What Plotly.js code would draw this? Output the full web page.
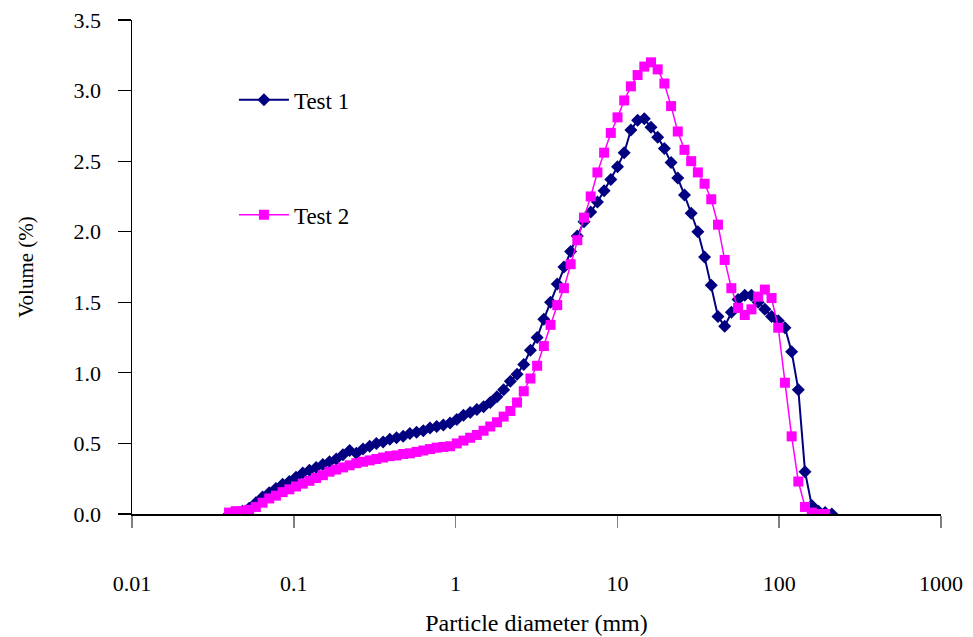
<!DOCTYPE html>
<html>
<head>
<meta charset="utf-8">
<script src="https://cdn.plot.ly/plotly-3.0.1.min.js"></script>
<style>html,body{margin:0;padding:0;background:#fff;}#chart{width:973px;height:637px;}</style>
</head>
<body>
<div id="chart"></div>
<script>
// Particle diameters (mm)
const diameter = [
  0.0398, 0.04378, 0.04816, 0.05297, 0.05827, 0.0641, 0.07051, 0.07756, 0.08532, 0.09385,
  0.10323, 0.11356, 0.12491, 0.1374, 0.15114, 0.16626, 0.18288, 0.20117, 0.22129, 0.24342,
  0.26776, 0.29454, 0.32399, 0.35639, 0.39203, 0.43123, 0.47436, 0.52179, 0.57397, 0.63137,
  0.6945, 0.76395, 0.84035, 0.92439, 1.01682, 1.11851, 1.23036, 1.35339, 1.48873, 1.6376,
  1.80137, 1.9815, 2.17965, 2.39762, 2.63738, 2.90112, 3.19123, 3.51035, 3.86139, 4.24753,
  4.67228, 5.13951, 5.65346, 6.21881, 6.84069, 7.52476, 8.27723, 9.10496, 10.0155, 11.017,
  12.1187, 13.3306, 14.6636, 16.13, 17.743, 19.5173, 21.469, 23.6159, 25.9775, 28.5753,
  31.4328, 34.5761, 38.0337, 41.8371, 46.0208, 50.6229, 55.6852, 61.2537, 67.379, 74.1169,
  81.5286, 89.6815, 98.6496, 108.515, 119.366, 131.303, 144.433, 158.876, 174.764, 192.24,
  211.464
];

// Volume (%) - Test 1
const test1 = [
  0.00, 0.01, 0.02, 0.04, 0.08, 0.12, 0.15, 0.18, 0.21, 0.23,
  0.26, 0.29, 0.31, 0.33, 0.35, 0.37, 0.39, 0.42, 0.45, 0.43,
  0.46, 0.48, 0.50, 0.51, 0.53, 0.54, 0.55, 0.57, 0.58, 0.59,
  0.61, 0.62, 0.63, 0.645, 0.67, 0.70, 0.72, 0.74, 0.76, 0.79,
  0.83, 0.88, 0.94, 0.99, 1.06, 1.16, 1.25, 1.38, 1.50, 1.63,
  1.75, 1.86, 1.97, 2.07, 2.14, 2.21, 2.29, 2.37, 2.46, 2.56,
  2.72, 2.79, 2.80, 2.74, 2.67, 2.59, 2.49, 2.38, 2.26, 2.13,
  2.00, 1.82, 1.62, 1.40, 1.33, 1.43, 1.52, 1.55, 1.55, 1.50,
  1.45, 1.40, 1.37, 1.32, 1.15, 0.88, 0.30, 0.06, 0.02, 0.01,
  0.00
];

// Volume (%) - Test 2
const test2 = [
  0.01, 0.02, 0.02, 0.03, 0.05, 0.08, 0.11, 0.13, 0.155, 0.175,
  0.195, 0.215, 0.235, 0.255, 0.275, 0.30, 0.315, 0.33, 0.345, 0.36,
  0.37, 0.38, 0.39, 0.40, 0.41, 0.415, 0.425, 0.43, 0.44, 0.45,
  0.46, 0.47, 0.475, 0.48, 0.50, 0.52, 0.54, 0.56, 0.59, 0.62,
  0.65, 0.69, 0.73, 0.79, 0.87, 0.96, 1.05, 1.19, 1.34, 1.48,
  1.60, 1.77, 1.94, 2.10, 2.25, 2.42, 2.56, 2.70, 2.81, 2.93,
  3.03, 3.11, 3.17, 3.20, 3.15, 3.05, 2.89, 2.71, 2.58, 2.50,
  2.42, 2.34, 2.23, 2.05, 1.80, 1.60, 1.46, 1.41, 1.45, 1.54,
  1.59, 1.53, 1.32, 0.93, 0.55, 0.23, 0.05, 0.01, 0.00, 0.00
];

const xTickVals = [0.01, 0.1, 1, 10, 100, 1000];
const xTickText = ['0.01', '0.1', '1', '10', '100', '1000'];
const seriesNames = ['Test 1', 'Test 2'];

const traces = [
  {
    x: diameter.slice(0, test1.length), y: test1, name: seriesNames[0],
    type: 'scatter', mode: 'lines+markers', legendgroup: 'g1',
    line: {color: '#000080', width: 2},
    marker: {symbol: 'diamond', size: 10, color: '#000080'}
  },
  {
    x: diameter.slice(0, test2.length), y: test2, name: seriesNames[1],
    type: 'scatter', mode: 'lines+markers', legendgroup: 'g2',
    line: {color: '#FF00FF', width: 1.5},
    marker: {symbol: 'square', size: 10, color: '#FF00FF'}
  }
];

const layout = {
  width: 973, height: 637,
  margin: {l: 132, r: 32, t: 20, b: 123},
  paper_bgcolor: '#ffffff', plot_bgcolor: '#ffffff',
  font: {family: 'Liberation Serif, Times New Roman, DejaVu Serif, serif', color: '#000', size: 22},
  showlegend: true,
  legend: {
    x: 0.126, xanchor: 'left', y: 0.882, yanchor: 'top',
    bgcolor: 'rgba(0,0,0,0)', borderwidth: 0,
    font: {size: 23}, tracegroupgap: 82, itemwidth: 50
  },
  xaxis: {
    type: 'log', range: [-2, 3],
    tickvals: xTickVals, ticktext: xTickText,
    ticks: 'outside', ticklen: 12, tickwidth: 1.5, tickcolor: '#808080',
    showline: true, linecolor: '#000', linewidth: 1.5,
    showgrid: false, zeroline: false,
    ticklabelstandoff: 37,
    title: {text: 'Particle diameter (mm)', font: {size: 24}, standoff: 19}
  },
  yaxis: {
    range: [0, 3.5], tick0: 0, dtick: 0.5, tickformat: '.1f',
    ticks: 'outside', ticklen: 13, tickwidth: 1.2, tickcolor: '#000',
    showline: true, linecolor: '#000', linewidth: 1.5,
    showgrid: false, zeroline: false,
    ticklabelstandoff: 12,
    title: {text: 'Volume (%)', font: {size: 21}, standoff: 34}
  }
};

Plotly.newPlot('chart', traces, layout, {displayModeBar: false, staticPlot: true});
</script>
</body>
</html>
